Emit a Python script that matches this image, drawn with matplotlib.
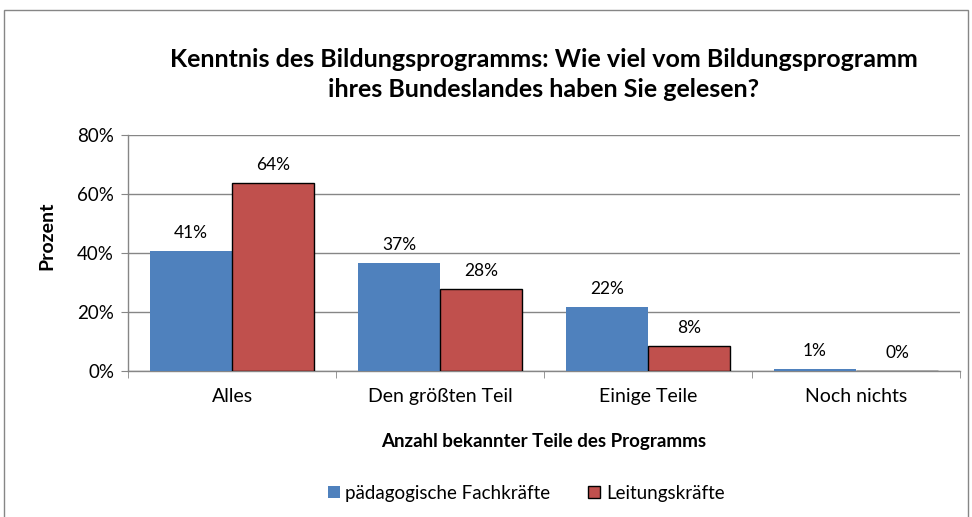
import matplotlib
matplotlib.use("Agg")
import matplotlib.pyplot as plt
import numpy as np
from matplotlib.patches import Rectangle
from matplotlib.ticker import FixedLocator

categories = ["Alles", "Den größten Teil", "Einige Teile", "Noch nichts"]
series_names = ["pädagogische Fachkräfte", "Leitungskräfte"]
fachkraefte = [40.6, 36.6, 21.8, 0.6]
leitung = [63.8, 27.9, 8.4, 0.0]
yticks = [0, 20, 40, 60, 80]
ytick_labels = ["0%", "20%", "40%", "60%", "80%"]
title = "Kenntnis des Bildungsprogramms: Wie viel vom Bildungsprogramm\nihres Bundeslandes haben Sie gelesen?"
xlabel = "Anzahl bekannter Teile des Programms"
ylabel = "Prozent"

plt.rcParams['font.family'] = ['Lato', 'DejaVu Sans']

fig = plt.figure(figsize=(9.72, 5.17), dpi=100)
ax = fig.add_axes([128/972, 1-371/517, (960-128)/972, (371-135)/517])

blue = "#4F81BD"
red = "#C0504D"
x = np.arange(len(categories))
w = 0.395
b1 = ax.bar(x - w/2, fachkraefte, w, color=blue, edgecolor="none", zorder=3)
b2 = ax.bar(x + w/2, leitung, w, color=red, edgecolor="black", linewidth=1.0, zorder=3)

for bars, vals in ((b1, fachkraefte), (b2, leitung)):
    for r, v in zip(bars, vals):
        ax.text(r.get_x() + r.get_width()/2, v + 3.3, f"{round(v)}%",
                ha="center", va="bottom", fontsize=12.5, color="#000000")

ax.set_xlim(-0.5, len(categories) - 0.5)
ax.set_ylim(0, 80)
ax.set_yticks(yticks)
ax.set_yticklabels(ytick_labels, fontsize=13.5)
ax.yaxis.grid(True, color="#868686", linewidth=1.0, zorder=0)
ax.set_axisbelow(True)

ax.set_xticks(x)
ax.set_xticklabels(categories, fontsize=14)
ax.xaxis.set_minor_locator(FixedLocator(np.arange(-0.5, len(categories), 1.0)))
ax.tick_params(axis="x", which="major", length=0, pad=12)
ax.tick_params(axis="x", which="minor", length=5, color="#868686", direction="out")
ax.tick_params(axis="y", length=5, color="#868686", direction="out", pad=5)

for s in ("top", "right"):
    ax.spines[s].set_visible(False)
for s in ("left", "bottom"):
    ax.spines[s].set_color("#868686")
    ax.spines[s].set_linewidth(1.0)

fig.text(544/972, 1-74.5/517, title, ha="center", va="center", fontsize=18,
         fontweight="bold", linespacing=1.4)
ax.set_xlabel(xlabel, fontsize=13.5, fontweight="bold")
ax.xaxis.set_label_coords(0.5, -(441-371)/236)
ax.xaxis.label.set_va("center")
ax.set_ylabel(ylabel, fontsize=14, fontweight="bold")
ax.yaxis.set_label_coords(-(128-47)/832, (371-236)/236)
ax.yaxis.label.set_va("center")

leg = fig.legend([b1, b2], series_names, loc="center", bbox_to_anchor=(526/972, 1-493/517),
                 ncol=2, frameon=False, fontsize=13.5, handlelength=0.65, handleheight=0.65,
                 handletextpad=0.3, columnspacing=2.0)

fig.patches.append(Rectangle((4/972, -0.05), (968-4)/972, 1.05 - 10/517,
                             transform=fig.transFigure, fill=False,
                             edgecolor="#868686", linewidth=1.0))

fig.savefig("out.png", dpi=100)
